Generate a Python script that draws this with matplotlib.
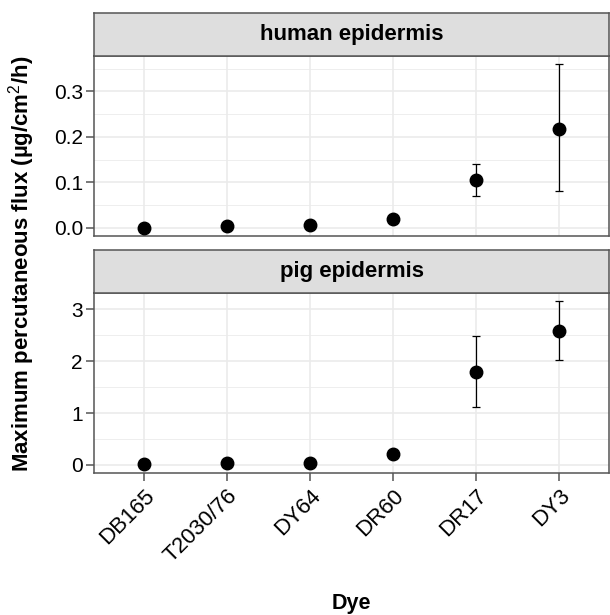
import numpy as np
import matplotlib.pyplot as plt
from matplotlib.ticker import MultipleLocator, FormatStrFormatter

plt.rcParams['font.family'] = ['Liberation Sans', 'DejaVu Sans']
plt.rcParams['mathtext.fontset'] = 'custom'
plt.rcParams['mathtext.rm'] = 'Liberation Sans'
plt.rcParams['mathtext.bf'] = 'Liberation Sans:bold'

dyes = ["DB165", "T2030/76", "DY64", "DR60", "DR17", "DY3"]

human_flux = [0.0, 0.003, 0.007, 0.02, 0.105, 0.218]
human_lo = [0.0, 0.003, 0.007, 0.02, 0.07, 0.08]
human_hi = [0.0, 0.003, 0.007, 0.02, 0.14, 0.36]

pig_flux = [0.01, 0.04, 0.04, 0.2, 1.8, 2.58]
pig_lo = [0.01, 0.04, 0.04, 0.2, 1.12, 2.02]
pig_hi = [0.01, 0.04, 0.04, 0.2, 2.48, 3.16]

fig = plt.figure(figsize=(6.1, 6.15), dpi=100)

W, H = 610, 615
def rect(x0, y0, x1, y1):
    return [x0 / W, 1 - y1 / H, (x1 - x0) / W, (y1 - y0) / H]

panels = [
    ("human epidermis", human_flux, human_lo, human_hi, (13, 56), (56, 236),
     (-0.018, 0.378), 0.1, 0.05, False),
    ("pig epidermis", pig_flux, pig_lo, pig_hi, (250, 293), (293, 473),
     (-0.158, 3.318), 1, 0.5, True),
]

x = np.arange(1, len(dyes) + 1)
border = "#555555"
for title, y, lo, hi, (s0, s1), (p0, p1), ylim, major, minor, show_x in panels:
    ax = fig.add_axes(rect(94, p0, 609, p1))
    ax.set_facecolor("white")
    ax.set_xlim(0.4, 6.6)
    ax.set_ylim(*ylim)
    ax.yaxis.set_major_locator(MultipleLocator(major))
    ax.yaxis.set_minor_locator(MultipleLocator(minor))
    ax.set_xticks(x)
    ax.grid(True, which="major", color="#EBEBEB", linewidth=1.2)
    ax.grid(True, which="minor", axis="y", color="#EBEBEB", linewidth=0.6)
    ax.set_axisbelow(True)
    y = np.array(y)
    lo = np.array(lo)
    hi = np.array(hi)
    has_err = (hi - lo) > 0
    ax.errorbar(x[has_err], y[has_err],
                yerr=[(y - lo)[has_err], (hi - y)[has_err]],
                fmt="none", ecolor="black", elinewidth=0.9, capsize=3, capthick=0.9)
    ax.plot(x, y, "o", color="black", markersize=9, zorder=3)
    for sp in ax.spines.values():
        sp.set_color(border)
        sp.set_linewidth(1.1)
    ax.tick_params(axis="y", which="major", labelsize=15, colors=border,
                   labelcolor="black", length=5.5, width=1.1, pad=2.5)
    ax.tick_params(axis="y", which="minor", length=0)
    if title.startswith("human"):
        ax.yaxis.set_major_formatter(FormatStrFormatter("%.1f"))
    if show_x:
        ax.set_xticklabels(dyes, rotation=45, ha="right", va="top",
                           rotation_mode="anchor", fontsize=16)
        ax.tick_params(axis="x", colors=border, labelcolor="black",
                       length=5.5, width=1.1, pad=3.5)
    else:
        ax.tick_params(axis="x", length=0, labelbottom=False)

    sax = fig.add_axes(rect(94, s0, 609, s1))
    sax.set_xticks([])
    sax.set_yticks([])
    sax.set_facecolor("#DEDEDE")
    for sp in sax.spines.values():
        sp.set_color(border)
        sp.set_linewidth(1.1)
    sax.text(0.5, 0.5, title, ha="center", va="center", fontsize=16,
             fontweight="bold", transform=sax.transAxes)

fig.text(22 / W, 1 - 264 / H, "Maximum percutaneous flux (µg/cm$^{2}$/h)",
         rotation=90, ha="center", va="center", fontsize=16, fontweight="bold")
fig.text((94 + 609) / 2 / W, 1 - 603 / H, "Dye", ha="center", va="center",
         fontsize=15.5, fontweight="bold")

fig.savefig("out.png", dpi=100)
